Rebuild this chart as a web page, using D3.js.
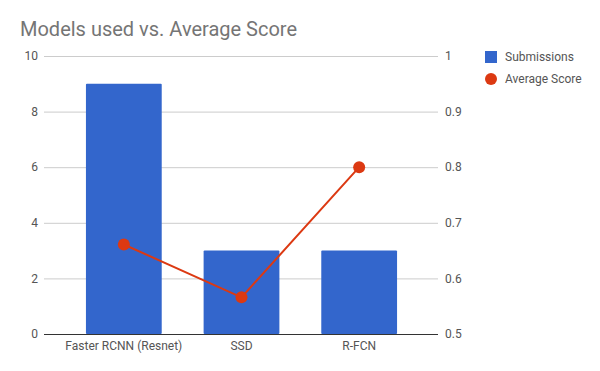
<!DOCTYPE html>
<html>
<head>
<meta charset="utf-8">
<script src="https://d3js.org/d3.v7.min.js"></script>
<style>
  body { margin: 0; background: #fff; font-family: Roboto, "Noto Sans", sans-serif; }
  .grid line { stroke: #cccccc; }
  .axis text { fill: #555; font-size: 12px; }
</style>
</head>
<body>
<script>
// data
var models = ["Faster RCNN (Resnet)", "SSD", "R-FCN"];
var submissions = [9, 3, 3];
var avgScore = [0.661, 0.566, 0.8];
var leftTicks = [0, 2, 4, 6, 8, 10];
var rightTicks = [0.5, 0.6, 0.7, 0.8, 0.9, 1];

var W = 600, H = 371;
var plotLeft = 44, plotRight = 438, plotTop = 56, plotBottom = 334;

var svg = d3.select("body").append("svg")
    .attr("width", W).attr("height", H);

svg.append("text")
    .attr("x", 20).attr("y", 36)
    .attr("font-size", 20)
    .attr("fill", "#757575")
    .text("Models used vs. Average Score");

var x = d3.scaleBand()
    .domain(models)
    .range([65, 418])
    .paddingInner(0.356)
    .paddingOuter(0.178);

var yL = d3.scaleLinear().domain([0, 10]).range([plotBottom, plotTop]);
var yR = d3.scaleLinear().domain([0.5, 1]).range([plotBottom, plotTop]);

// gridlines
svg.append("g").attr("class", "grid")
    .selectAll("line").data(leftTicks).enter().append("line")
    .attr("x1", plotLeft).attr("x2", plotRight)
    .attr("y1", function(d){ return yL(d) + 0.5; })
    .attr("y2", function(d){ return yL(d) + 0.5; });

// left axis labels
svg.append("g").attr("class", "axis")
    .selectAll("text").data(leftTicks).enter().append("text")
    .attr("x", 38).attr("y", function(d){ return yL(d); })
    .attr("dy", "0.35em")
    .attr("text-anchor", "end")
    .text(function(d){ return d; });

// right axis labels
svg.append("g").attr("class", "axis")
    .selectAll("text").data(rightTicks).enter().append("text")
    .attr("x", 445).attr("y", function(d){ return yR(d); })
    .attr("dy", "0.35em")
    .text(function(d){ return d; });

// bars
svg.append("g").selectAll("rect")
    .data(models).enter().append("rect")
    .attr("x", function(d){ return x(d); })
    .attr("y", function(d, i){ return yL(submissions[i]); })
    .attr("width", x.bandwidth())
    .attr("height", function(d, i){ return plotBottom - yL(submissions[i]); })
    .attr("rx", 1)
    .attr("fill", "#3366cc");

// baseline
svg.append("line")
    .attr("x1", plotLeft).attr("x2", plotRight)
    .attr("y1", plotBottom + 0.5).attr("y2", plotBottom + 0.5)
    .attr("stroke", "#333");

// x labels
svg.append("g").attr("class", "axis")
    .selectAll("text").data(models).enter().append("text")
    .attr("x", function(d){ return x(d) + x.bandwidth() / 2; })
    .attr("y", 350)
    .attr("text-anchor", "middle")
    .text(function(d){ return d; });

// line series
var line = d3.line()
    .x(function(d, i){ return x(models[i]) + x.bandwidth() / 2; })
    .y(function(d){ return yR(d); });

svg.append("path")
    .datum(avgScore)
    .attr("d", line)
    .attr("fill", "none")
    .attr("stroke", "#dc3912")
    .attr("stroke-width", 2);

svg.append("g").selectAll("circle")
    .data(avgScore).enter().append("circle")
    .attr("cx", function(d, i){ return x(models[i]) + x.bandwidth() / 2; })
    .attr("cy", function(d){ return yR(d); })
    .attr("r", 6)
    .attr("fill", "#dc3912");

// legend
var legend = svg.append("g").attr("class", "axis");
legend.append("rect")
    .attr("x", 485).attr("y", 51).attr("width", 12).attr("height", 12)
    .attr("fill", "#3366cc");
legend.append("text")
    .attr("x", 505).attr("y", 57).attr("dy", "0.35em")
    .text("Submissions");
legend.append("circle")
    .attr("cx", 491).attr("cy", 79).attr("r", 6)
    .attr("fill", "#dc3912");
legend.append("text")
    .attr("x", 505).attr("y", 79).attr("dy", "0.35em")
    .text("Average Score");
</script>
</body>
</html>
